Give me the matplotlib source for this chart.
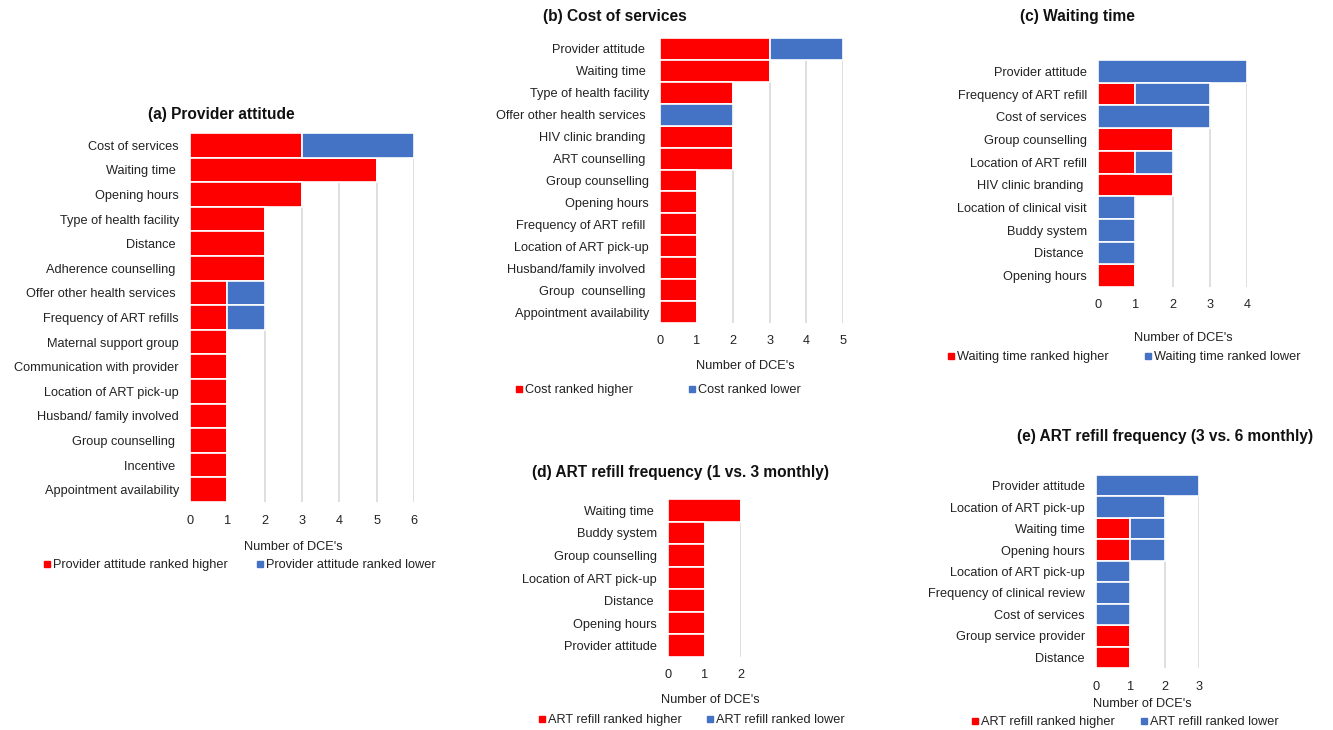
import matplotlib
matplotlib.use("Agg")
import matplotlib.pyplot as plt
from matplotlib.lines import Line2D
import numpy as np

plt.rcParams['font.family'] = ['Liberation Sans', 'DejaVu Sans']
plt.rcParams['font.size'] = 9

RED = '#FF0000'
BLUE = '#4472C4'
W, H = 1333, 730

# (a) Provider attitude
cats_a = ["Cost of services", "Waiting time ", "Opening hours", "Type of health facility",
          "Distance ", "Adherence counselling ", "Offer other health services ",
          "Frequency of ART refills", "Maternal support group", "Communication with provider",
          "Location of ART pick-up", "Husband/ family involved", "Group counselling ",
          "Incentive ", "Appointment availability"]
hi_a = [3, 5, 3, 2, 2, 2, 1, 1, 1, 1, 1, 1, 1, 1, 1]
lo_a = [3, 0, 0, 0, 0, 0, 1, 1, 0, 0, 0, 0, 0, 0, 0]

# (b) Cost of services
cats_b = ["Provider attitude ", "Waiting time ", "Type of health facility",
          "Offer other health services ", "HIV clinic branding ", "ART counselling ",
          "Group counselling", "Opening hours", "Frequency of ART refill ",
          "Location of ART pick-up", "Husband/family involved ", "Group  counselling ",
          "Appointment availability"]
hi_b = [3, 3, 2, 0, 2, 2, 1, 1, 1, 1, 1, 1, 1]
lo_b = [2, 0, 0, 2, 0, 0, 0, 0, 0, 0, 0, 0, 0]

# (c) Waiting time
cats_c = ["Provider attitude", "Frequency of ART refill", "Cost of services",
          "Group counselling", "Location of ART refill", "HIV clinic branding ",
          "Location of clinical visit", "Buddy system", "Distance ", "Opening hours"]
hi_c = [0, 1, 0, 2, 1, 2, 0, 0, 0, 1]
lo_c = [4, 2, 3, 0, 1, 0, 1, 1, 1, 0]

# (d) ART refill frequency (1 vs. 3 monthly)
cats_d = ["Waiting time ", "Buddy system", "Group counselling", "Location of ART pick-up",
          "Distance ", "Opening hours", "Provider attitude"]
hi_d = [2, 1, 1, 1, 1, 1, 1]
lo_d = [0, 0, 0, 0, 0, 0, 0]

# (e) ART refill frequency (3 vs. 6 monthly)
cats_e = ["Provider attitude", "Location of ART pick-up", "Waiting time", "Opening hours",
          "Location of ART pick-up", "Frequency of clinical review", "Cost of services",
          "Group service provider", "Distance"]
hi_e = [0, 0, 1, 1, 0, 0, 0, 1, 1]
lo_e = [3, 2, 1, 1, 1, 1, 1, 0, 0]

fig = plt.figure(figsize=(W / 100, H / 100), dpi=100)


def px_axes(x0, x1, ytop, ybot):
    return fig.add_axes([x0 / W, 1 - ybot / H, (x1 - x0) / W, (ybot - ytop) / H])


def panel(box, cats, hi, lo, xmax, title, title_xy, xlab_xy, leg_labels, leg_red, leg_blue):
    x0, x1, ytop, ybot = box
    ax = px_axes(x0, x1, ytop, ybot)
    y = np.arange(len(cats))
    hi = np.array(hi)
    lo = np.array(lo)
    ax.barh(y, hi, height=1.0, color=RED, edgecolor='white', linewidth=1.2, zorder=2)
    ax.barh(y, lo, left=hi, height=1.0, color=BLUE, edgecolor='white', linewidth=1.2, zorder=2)
    ax.set_yticks(y)
    ax.set_yticklabels(cats)
    ax.set_ylim(len(cats) - 0.5, -0.5)
    ax.set_xlim(0, xmax)
    ax.set_xticks(range(xmax + 1))
    ax.grid(axis='x', color='#d9d9d9', linewidth=1.2, zorder=0)
    ax.set_axisbelow(True)
    for s in ax.spines.values():
        s.set_visible(False)
    ax.tick_params(axis='both', length=0, labelsize=9.2, colors='#222222')
    ax.tick_params(axis='y', pad=8)
    ax.tick_params(axis='x', pad=9)
    ax.set_xlabel("Number of DCE's", fontsize=9.2, color='#222222')
    lx, ly = xlab_xy
    ax.xaxis.set_label_coords((lx - x0) / (x1 - x0), (ybot - ly) / (ybot - ytop))
    ax.xaxis.label.set_va('center')
    fig.text(title_xy[0] / W, 1 - title_xy[1] / H, title, fontsize=11.2,
             fontweight='bold', ha='center', va='center', color='#111111')
    for lab, col, (mx, my) in [(leg_labels[0], RED, leg_red), (leg_labels[1], BLUE, leg_blue)]:
        h = Line2D([], [], marker='s', color=col, linestyle='none', markersize=4)
        lg = fig.legend([h], [lab], loc='center left',
                        bbox_to_anchor=((mx - 4) / W, 1 - my / H),
                        frameon=False, fontsize=9.2, handlelength=0.6,
                        handletextpad=0.15, borderpad=0, borderaxespad=0)
        for t in lg.get_texts():
            t.set_color('#222222')
    return ax


panel((190, 414, 133, 502), cats_a, hi_a, lo_a, 6, "(a) Provider attitude", (221, 115),
      (293, 547), ["Provider attitude ranked higher", "Provider attitude ranked lower"],
      (47, 565), (260, 565))
panel((660, 843, 38, 323), cats_b, hi_b, lo_b, 5, "(b) Cost of services", (615, 17),
      (745, 366), ["Cost ranked higher", "Cost ranked lower"], (519, 390), (692, 390))
panel((1098, 1247, 60, 287), cats_c, hi_c, lo_c, 4, "(c) Waiting time", (1077, 16),
      (1183, 338), ["Waiting time ranked higher", "Waiting time ranked lower"],
      (951, 357), (1148, 357))
panel((668, 741, 499, 657), cats_d, hi_d, lo_d, 2, "(d) ART refill frequency (1 vs. 3 monthly)",
      (680, 473), (710, 700), ["ART refill ranked higher", "ART refill ranked lower"],
      (542, 720), (710, 720))
panel((1096, 1199, 475, 668), cats_e, hi_e, lo_e, 3, "(e) ART refill frequency (3 vs. 6 monthly)",
      (1165, 437), (1142, 704), ["ART refill ranked higher", "ART refill ranked lower"],
      (975, 722), (1144, 722))

fig.savefig("out.png", dpi=100, facecolor='white')
